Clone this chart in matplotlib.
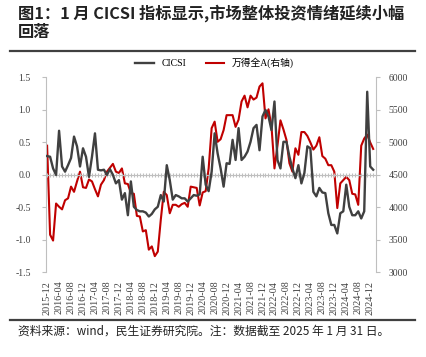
import numpy as np
import pandas as pd
import matplotlib
matplotlib.use("Agg")
import matplotlib.pyplot as plt
from matplotlib.lines import Line2D

# monthly data, 2015-12 .. 2025-01
months = pd.period_range("2015-12", periods=110, freq="M")

cicsi = [
    0.29, 0.28, 0.10, 0.00, 0.68, 0.13, 0.05, 0.15, 0.26, 0.59,
    0.44, 0.13, 0.41, 0.28, -0.03, 0.28, 0.64, 0.08, 0.07, 0.08,
    0.00, 0.09, 0.00, -0.13, -0.08, -0.38, -0.28, -0.62, -0.10, -0.49,
    -0.54, -0.56, -0.56, -0.58, -0.64, -0.60, -0.53, -0.49, -0.31, -0.41,
    0.15, -0.08, -0.38, -0.31, -0.33, -0.36, -0.36, -0.41, -0.36, -0.31,
    -0.32, -0.30, 0.28, -0.15, -0.25, 0.05, 0.64, 0.33, 0.10, -0.18,
    0.18, 0.17, 0.54, 0.23, 0.72, 0.23, 0.28, 0.36, 0.51, 0.72,
    0.77, 0.38, 0.90, 1.00, 0.90, 0.69, 1.13, 0.23, 0.10, 0.51,
    0.51, 0.28, 0.10, -0.05, 0.15, -0.13, 0.03, 0.44, 0.41, -0.26,
    -0.33, -0.20, -0.27, -0.28, -0.59, -0.77, -0.77, -0.90, -0.59, -0.56,
    -0.15, -0.49, -0.62, -0.62, -0.56, -0.67, -0.56, 1.28, 0.13, 0.08,
]

wind_a = [
    4950, 3580, 3490, 4060, 4010, 3970, 4110, 4140, 4320, 4240,
    4400, 4550, 4310, 4300, 4430, 4400, 4280, 4170, 4350, 4420,
    4550, 4610, 4670, 4550, 4530, 4600, 4370, 4360, 4220, 4210,
    3870, 3860, 3630, 3650, 3350, 3400, 3250, 3320, 3810, 4240,
    4190, 3910, 4040, 4040, 4010, 4050, 4070, 4010, 4320, 4310,
    4300, 4030, 4230, 4250, 4600, 5220, 5320, 5010, 5050, 5190,
    5420, 5420, 5420, 5240, 5350, 5630, 5720, 5540, 5720, 5660,
    5690, 5860, 5910, 5370, 5510, 5250, 4600, 4950, 5340, 5200,
    5040, 4680, 4550, 4910, 4810, 5160, 5160, 5100, 5000, 4890,
    4950, 5080, 4790, 4750, 4650, 4650, 4550, 3990, 4370, 4420,
    4470, 4420, 4210, 4200, 4040, 4950, 5060, 5120, 5000, 4900,
]

tick_idx = list(range(0, 109, 4))
tick_labels = [months[i].strftime("%Y-%m") for i in tick_idx]

GRAY = "#404040"
RED = "#C00000"
AXC = "#BFBFBF"
SERIF = ["Liberation Serif", "Noto Sans CJK SC"]
CJK = ["Noto Sans CJK SC", "DejaVu Sans"]

fig = plt.figure(figsize=(4.27, 3.57), dpi=100)
ax = fig.add_axes([0.108, 0.237, 0.773, 0.546])
ax2 = ax.twinx()

x = np.arange(len(months))
l1, = ax.plot(x, cicsi, color=GRAY, lw=1.7, label="CICSI", zorder=3)
l2, = ax2.plot(x, wind_a, color=RED, lw=1.5, label="万得全A(右轴)")
ax.set_zorder(ax2.get_zorder() + 1)
ax.patch.set_visible(False)

ax.set_xlim(-0.33, 110)
ax.set_ylim(-1.5, 1.5)
ax2.set_ylim(3000, 6000)
ax.set_yticks(np.arange(-1.5, 1.51, 0.5))
ax2.set_yticks(np.arange(3000, 6001, 500))
ax.set_yticklabels([f"{v:.1f}" for v in np.arange(-1.5, 1.51, 0.5)])

for a in (ax, ax2):
    for s in ("top", "bottom"):
        a.spines[s].set_visible(False)
ax.spines["right"].set_visible(False)
ax.spines["left"].set_color(AXC)
ax2.spines["left"].set_visible(False)
ax2.spines["right"].set_color(AXC)

ax.tick_params(axis="y", direction="out", length=3, color=AXC, pad=8,
               labelsize=7, labelcolor="#404040")
ax2.tick_params(axis="y", direction="out", length=3, color=AXC, pad=6,
                labelsize=7, labelcolor="#404040")
ax.set_xticks(tick_idx)
ax.set_xticklabels(tick_labels, rotation=90, fontsize=7.3, color="#404040")
ax.tick_params(axis="x", length=0, pad=6)
for t in ax.get_xticklabels() + ax.get_yticklabels() + ax2.get_yticklabels():
    t.set_family(SERIF)

# zero line with monthly ticks
sec = ax.secondary_xaxis(0.5)
sec.set_xticks(x)
sec.tick_params(axis="x", direction="inout", length=3, color=AXC,
                labelbottom=False, labeltop=False, bottom=True, top=False)
for s in sec.spines.values():
    s.set_color(AXC)

ax.legend(handles=[l1, l2], loc="center", bbox_to_anchor=(0.51, 1.075),
          ncol=2, frameon=False, handlelength=1.9, columnspacing=2.0,
          prop={"family": SERIF, "size": 7})

fig.text(18 / 427, 1 - 4 / 357, "图1：1 月 CICSI 指标显示,市场整体投资情绪延续小幅",
         family=CJK, fontsize=11.7, weight="bold", va="top", color="#222222")
fig.text(18 / 427, 1 - 24 / 357, "回落",
         family=CJK, fontsize=11.7, weight="bold", va="top", color="#222222")
fig.add_artist(Line2D([10 / 427, 415 / 427], [1 - 50.7 / 357] * 2,
                      color="#404040", lw=1.6, transform=fig.transFigure))
fig.add_artist(Line2D([10 / 427, 415 / 427], [1 - 320 / 357] * 2,
                      color="#404040", lw=1.6, transform=fig.transFigure))
fig.text(18 / 427, 1 - 331 / 357,
         "资料来源：wind，民生证券研究院。注：数据截至 2025 年 1 月 31 日。",
         family=CJK, fontsize=8.5, va="center", color="#222222")

fig.savefig("out.png", dpi=100)
